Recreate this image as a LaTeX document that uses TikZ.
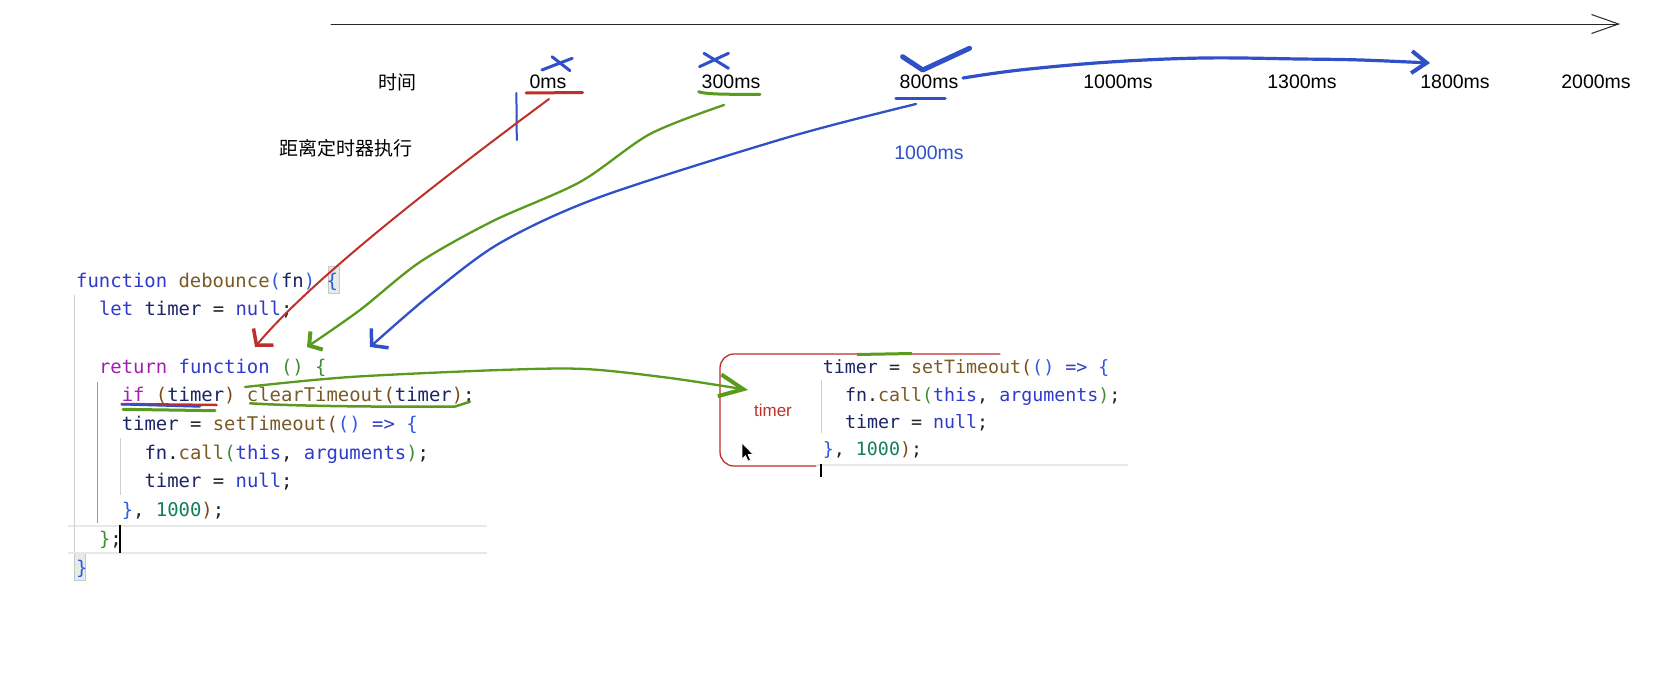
\documentclass[tikz,border=0pt]{standalone}
\usepackage{fontspec}
\setmainfont{Liberation Sans}
\newfontfamily\cjkfont{Noto Sans CJK SC}
\newfontfamily\codefont{DejaVu Sans Mono}
\usetikzlibrary{arrows.meta}
\definecolor{ckw}{HTML}{2F3BCB}
\definecolor{cvar}{HTML}{1B2466}
\definecolor{cfn}{HTML}{7A5A26}
\definecolor{cctl}{HTML}{A51DB5}
\definecolor{cnum}{HTML}{127F5A}
\definecolor{cba}{HTML}{2B5BE3}
\definecolor{cbg}{HTML}{3D8F35}
\definecolor{cbb}{HTML}{7B4A1A}
\definecolor{ctext}{HTML}{222222}
\definecolor{hred}{HTML}{C0302A}
\definecolor{hgreen}{HTML}{5A9A1E}
\definecolor{hblue}{HTML}{3050C8}
\definecolor{guide}{HTML}{CFCFCF}
\definecolor{guidedark}{HTML}{9A9A9A}
\definecolor{hl}{HTML}{E6EBE6}
\definecolor{hlb}{HTML}{C2CAC2}
\definecolor{lineh}{HTML}{E8E8E8}
\newcommand{\Ckw}[1]{\textcolor{ckw}{#1}}
\newcommand{\Cvar}[1]{\textcolor{cvar}{#1}}
\newcommand{\Cfn}[1]{\textcolor{cfn}{#1}}
\newcommand{\Cctl}[1]{\textcolor{cctl}{#1}}
\newcommand{\Cnum}[1]{\textcolor{cnum}{#1}}
\newcommand{\Cba}[1]{\textcolor{cba}{#1}}
\newcommand{\Cbg}[1]{\textcolor{cbg}{#1}}
\newcommand{\Cbb}[1]{\textcolor{cbb}{#1}}
\begin{document}
\begin{tikzpicture}[x=1pt,y=-1pt,line cap=round,line join=round,
  tlabel/.style={inner sep=0pt,font=\fontsize{19.5}{22}\selectfont},
  cjklabel/.style={inner sep=0pt,font=\cjkfont\fontsize{19}{22}\selectfont},
  codeline/.style={anchor=base west,inner sep=0pt,text=ctext,font=\codefont\fontsize{18.9}{22}\selectfont},
  rcodeline/.style={anchor=base west,inner sep=0pt,text=ctext,font=\codefont\fontsize{18.3}{22}\selectfont}
]
\useasboundingbox (0,0) rectangle (1667,672);
\fill[white] (0,0) rectangle (1667,672);

% ---------- timeline ----------
\coordinate (tlS) at (331,24);
\coordinate (tlE) at (1620,24);
\draw[line width=1pt,black!85,-{Straight Barb[length=27pt,width=19pt]}] (tlS) -- (tlE);

\node[cjklabel] (lblTime) at (397,82) {时间};
\node[tlabel] (t0) at (548,82) {0ms};
\node[tlabel] (t300) at (731,82) {300ms};
\node[tlabel] (t800) at (929,82) {800ms};
\node[tlabel] (t1000) at (1118,82) {1000ms};
\node[tlabel] (t1300) at (1302,82) {1300ms};
\node[tlabel] (t1800) at (1455,82) {1800ms};
\node[tlabel] (t2000) at (1596,82) {2000ms};
\node[cjklabel] (lblDist) at (345.5,148.5) {距离定时器执行};
\node[tlabel,text=hblue] (lblBlue) at (929,153) {1000ms};

% marks on timeline labels
\draw[hred,line width=3pt] (526,93) -- (582.5,92.5);
\draw[hgreen,line width=3pt] (698.6,91.7) .. controls (705,94) and (720,94.5) .. (760,94.3);
\draw[hblue,line width=3.5pt] (896,98.3) -- (945,98.3);
\draw[hblue,line width=2pt] (516.4,93) -- (516.8,140);
\draw[hblue,line width=3pt] (541.9,70) -- (572.2,58.3);
\draw[hblue,line width=3pt] (552,56.7) -- (570,70.7);
\draw[hblue,line width=3pt] (699.5,66.7) -- (728.5,53.3);
\draw[hblue,line width=3pt] (704,53.3) -- (728.5,68.3);
\draw[hblue,line width=5pt] (902.6,56.7) -- (922.7,70) -- (969.5,48.3);

% ---------- left code ----------
\fill[hl] (328.3,266.7) rectangle (339.3,293.3);
\draw[hlb,line width=0.8pt] (328.3,266.7) rectangle (339.3,293.3);
\fill[hl] (74.3,553.3) rectangle (85,580);
\draw[hlb,line width=0.8pt] (74.3,553.3) rectangle (85,580);
\draw[lineh,line width=2pt,line cap=butt] (68,526) -- (487,526);
\draw[lineh,line width=2pt,line cap=butt] (68,552.7) -- (487,552.7);
\draw[guide,line width=1pt,line cap=butt] (74.3,295) -- (74.3,552);
\draw[guidedark,line width=1pt,line cap=butt] (97.7,381.7) -- (97.7,523);
\draw[guide,line width=1pt,line cap=butt] (120.7,438) -- (120.7,495);
\draw[black,line width=2pt,line cap=butt] (120,525) -- (120,553);

\node[codeline] (c1) at (76,287) {\Ckw{function} \Cfn{debounce}\Cba{(}\Cvar{fn}\Cba{)} \Cba{\{}};
\node[codeline] (c2) at (98.8,315.7) {\Ckw{let} \Cvar{timer} = \Ckw{null};};
\node[codeline] (c4) at (98.8,373.1) {\Cctl{return} \Ckw{function} \Cbg{()} \Cbg{\{}};
\node[codeline] (c5) at (121.6,401.8) {\Cctl{if} \Cbb{(}\Cvar{timer}\Cbb{)} \Cfn{clearTimeout}\Cbb{(}\Cvar{timer}\Cbb{)};};
\node[codeline] (c6) at (121.6,430.5) {\Cvar{timer} = \Cfn{setTimeout}\Cbb{(}\Cba{()} \Ckw{=>} \Cba{\{}};
\node[codeline] (c7) at (144.4,459.2) {\Cvar{fn}.\Cfn{call}\Cbg{(}\Ckw{this}, \Ckw{arguments}\Cbg{)};};
\node[codeline] (c8) at (144.4,487.9) {\Cvar{timer} = \Ckw{null};};
\node[codeline] (c9) at (121.6,516.6) {\Cba{\}}, \Cnum{1000}\Cbb{)};};
\node[codeline] (c10) at (98.8,545.3) {\Cbg{\}};};
\node[codeline] (c11) at (76,574) {\Cba{\}}};

% underlines in code
\draw[hred,line width=2.5pt] (121.7,404) -- (216.7,405);
\draw[hblue,line width=2pt] (121.7,404.5) -- (200,406.7);
\draw[hgreen,line width=3pt] (123,409.3) -- (215,410.7);
\draw[hgreen,line width=2.5pt] (250,403.3) .. controls (300,406.5) and (400,407) .. (455,406.5) -- (470,401.7);

% ---------- right code snippet ----------
\draw[hred,line width=1.3pt,rounded corners=14pt] (1000,354) -- (720,354) -- (720,466) -- (816,466);
\draw[hgreen,line width=3pt,line cap=butt] (857,354.5) -- (912,353.5);
\node[text=hred,inner sep=0pt,font=\fontsize{17}{20}\selectfont] (lblTimer) at (773,410) {timer};
\draw[guide,line width=1pt,line cap=butt] (821.7,380) -- (821.7,433);
\draw[lineh,line width=2pt,line cap=butt] (816.7,464.7) -- (1128,464.7);
\draw[black,line width=2pt,line cap=butt] (820.7,464) -- (820.7,477);
\node[rcodeline] (r1) at (822.7,373.7) {\Cvar{timer} = \Cfn{setTimeout}\Cbb{(}\Cba{()} \Ckw{=>} \Cba{\{}};
\node[rcodeline] (r2) at (844.8,401.5) {\Cvar{fn}.\Cfn{call}\Cbg{(}\Ckw{this}, \Ckw{arguments}\Cbg{)};};
\node[rcodeline] (r3) at (844.8,428.5) {\Cvar{timer} = \Ckw{null};};
\node[rcodeline] (r4) at (822.7,455) {\Cba{\}}, \Cnum{1000}\Cbb{)};};
% mouse pointer
\filldraw[fill=black,draw=white,line width=0.6pt] (742,443) -- (742,459) -- (745.5,455.5) -- (748,461) -- (750.5,460) -- (748,454.5) -- (753,454.5) -- cycle;

% ---------- hand-drawn arrows ----------
\coordinate (rS) at (549,99);
\coordinate (rE) at (255,347);
\draw[hred,line width=2pt,-{Straight Barb[length=11pt,width=26pt,line width=3.5pt]}] (rS) .. controls (460,165) and (315,275) .. (rE);

\coordinate (gS) at (724,105);
\coordinate (g2) at (650,134);
\coordinate (g3) at (580,182);
\coordinate (g4) at (493,221);
\coordinate (g5) at (420,262);
\coordinate (g6) at (360,310);
\coordinate (gE) at (307,347);
\draw[hgreen,line width=2.3pt,-{Straight Barb[length=9pt,width=22pt,line width=4pt]}] plot[smooth,tension=0.5] coordinates {(gS) (g2) (g3) (g4) (g5) (g6) (gE)};

\coordinate (bS) at (916,104);
\coordinate (b2) at (789,137);
\coordinate (b3) at (600,197);
\coordinate (b4) at (500,243);
\coordinate (b5) at (430,295);
\coordinate (bE) at (370,347);
\draw[hblue,line width=2.3pt,-{Straight Barb[length=11pt,width=26pt,line width=3.5pt]}] plot[smooth,tension=0.5] coordinates {(bS) (b2) (b3) (b4) (b5) (bE)};

\coordinate (lS) at (963,78);
\coordinate (l2) at (1020,70);
\coordinate (l3) at (1110,62);
\coordinate (l4) at (1204,58);
\coordinate (l5) at (1300,59);
\coordinate (l6) at (1361,60);
\coordinate (lE) at (1430,63);
\draw[hblue,line width=3.2pt,-{Straight Barb[length=15pt,width=22pt,line width=4pt]}] plot[smooth,tension=0.6] coordinates {(lS) (l2) (l3) (l4) (l5) (l6) (lE)};

\coordinate (kS) at (245,387);
\coordinate (k2) at (350,377);
\coordinate (k3) at (500,370);
\coordinate (k4) at (585,369);
\coordinate (k5) at (670,378);
\coordinate (kE) at (748,390);
\draw[hgreen,line width=2.3pt,-{Straight Barb[length=24pt,width=22pt,line width=4pt]}] plot[smooth,tension=0.5] coordinates {(kS) (k2) (k3) (k4) (k5) (kE)};
\end{tikzpicture}
\end{document}
